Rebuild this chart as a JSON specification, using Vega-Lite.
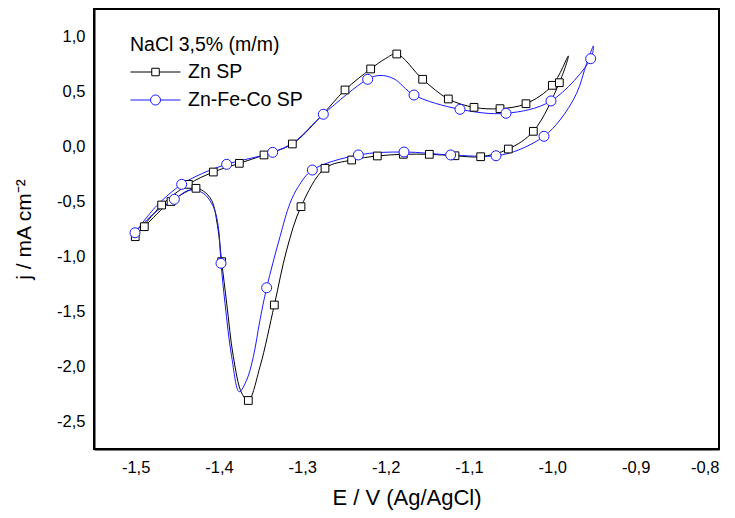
{
  "$schema": "https://vega.github.io/schema/vega-lite/v6.json",
  "width": 625,
  "height": 440,
  "autosize": {"type": "none"},
  "padding": {"left": 94, "top": 9, "right": 16, "bottom": 69},
  "background": "white",
  "config": {
    "view": {"stroke": "black", "strokeWidth": 2},
    "font": "Liberation Sans",
    "axis": {
      "grid": false,
      "domainColor": "black",
      "domainWidth": 2,
      "tickColor": "black",
      "tickWidth": 1.3,
      "tickSize": 0,
      "labelColor": "black",
      "titleColor": "black",
      "labelFont": "Liberation Sans",
      "titleFont": "Liberation Sans",
      "labelFontSize": 16.5,
      "titleFontSize": 21,
      "titleFontWeight": "normal"
    }
  },
  "data": {
    "values": [
      {"s": "Zn SP", "i": 1, "E": -1.5005, "j": -0.82, "m": 1},
      {"s": "Zn SP", "i": 2, "E": -1.4688, "j": -0.532, "m": 1},
      {"s": "Zn SP", "i": 3, "E": -1.4368, "j": -0.344, "m": 1},
      {"s": "Zn SP", "i": 4, "E": -1.4068, "j": -0.232, "m": 1},
      {"s": "Zn SP", "i": 5, "E": -1.3756, "j": -0.153, "m": 1},
      {"s": "Zn SP", "i": 6, "E": -1.346, "j": -0.077, "m": 1},
      {"s": "Zn SP", "i": 7, "E": -1.312, "j": 0.023, "m": 1},
      {"s": "Zn SP", "i": 8, "E": -1.28, "j": 0.255, "m": 0},
      {"s": "Zn SP", "i": 9, "E": -1.2488, "j": 0.514, "m": 1},
      {"s": "Zn SP", "i": 10, "E": -1.218, "j": 0.705, "m": 1},
      {"s": "Zn SP", "i": 11, "E": -1.2, "j": 0.8, "m": 0},
      {"s": "Zn SP", "i": 12, "E": -1.1867, "j": 0.841, "m": 1},
      {"s": "Zn SP", "i": 13, "E": -1.1556, "j": 0.611, "m": 1},
      {"s": "Zn SP", "i": 14, "E": -1.1248, "j": 0.432, "m": 1},
      {"s": "Zn SP", "i": 15, "E": -1.094, "j": 0.356, "m": 1},
      {"s": "Zn SP", "i": 16, "E": -1.0628, "j": 0.344, "m": 1},
      {"s": "Zn SP", "i": 17, "E": -1.0316, "j": 0.389, "m": 1},
      {"s": "Zn SP", "i": 18, "E": -1.0, "j": 0.556, "m": 1},
      {"s": "Zn SP", "i": 19, "E": -0.9808, "j": 0.823, "m": 0},
      {"s": "Zn SP", "i": 20, "E": -0.9916, "j": 0.58, "m": 1},
      {"s": "Zn SP", "i": 21, "E": -1.0228, "j": 0.138, "m": 1},
      {"s": "Zn SP", "i": 22, "E": -1.0528, "j": -0.023, "m": 1},
      {"s": "Zn SP", "i": 23, "E": -1.086, "j": -0.093, "m": 1},
      {"s": "Zn SP", "i": 24, "E": -1.1168, "j": -0.084, "m": 1},
      {"s": "Zn SP", "i": 25, "E": -1.1476, "j": -0.071, "m": 1},
      {"s": "Zn SP", "i": 26, "E": -1.1788, "j": -0.071, "m": 1},
      {"s": "Zn SP", "i": 27, "E": -1.21, "j": -0.086, "m": 1},
      {"s": "Zn SP", "i": 28, "E": -1.2408, "j": -0.123, "m": 1},
      {"s": "Zn SP", "i": 29, "E": -1.2728, "j": -0.198, "m": 1},
      {"s": "Zn SP", "i": 30, "E": -1.3016, "j": -0.547, "m": 1},
      {"s": "Zn SP", "i": 31, "E": -1.3188, "j": -0.941, "m": 0},
      {"s": "Zn SP", "i": 32, "E": -1.3336, "j": -1.441, "m": 1},
      {"s": "Zn SP", "i": 33, "E": -1.3508, "j": -2.002, "m": 0},
      {"s": "Zn SP", "i": 34, "E": -1.3648, "j": -2.309, "m": 1},
      {"s": "Zn SP", "i": 35, "E": -1.3728, "j": -2.241, "m": 0},
      {"s": "Zn SP", "i": 36, "E": -1.3828, "j": -1.911, "m": 0},
      {"s": "Zn SP", "i": 37, "E": -1.3908, "j": -1.423, "m": 0},
      {"s": "Zn SP", "i": 38, "E": -1.3968, "j": -1.047, "m": 1},
      {"s": "Zn SP", "i": 39, "E": -1.4018, "j": -0.72, "m": 0},
      {"s": "Zn SP", "i": 40, "E": -1.4088, "j": -0.49, "m": 0},
      {"s": "Zn SP", "i": 41, "E": -1.4188, "j": -0.405, "m": 0},
      {"s": "Zn SP", "i": 42, "E": -1.4276, "j": -0.38, "m": 1},
      {"s": "Zn SP", "i": 43, "E": -1.4576, "j": -0.5, "m": 1},
      {"s": "Zn SP", "i": 44, "E": -1.4896, "j": -0.729, "m": 1},
      {"s": "Zn SP", "i": 45, "E": -1.5005, "j": -0.81, "m": 0},
      {"s": "Zn-Fe-Co SP", "i": 1, "E": -1.5008, "j": -0.784, "m": 1},
      {"s": "Zn-Fe-Co SP", "i": 2, "E": -1.475, "j": -0.54, "m": 0},
      {"s": "Zn-Fe-Co SP", "i": 3, "E": -1.4448, "j": -0.344, "m": 1},
      {"s": "Zn-Fe-Co SP", "i": 4, "E": -1.42, "j": -0.245, "m": 0},
      {"s": "Zn-Fe-Co SP", "i": 5, "E": -1.3908, "j": -0.162, "m": 1},
      {"s": "Zn-Fe-Co SP", "i": 6, "E": -1.3356, "j": -0.053, "m": 1},
      {"s": "Zn-Fe-Co SP", "i": 7, "E": -1.31, "j": 0.04, "m": 0},
      {"s": "Zn-Fe-Co SP", "i": 8, "E": -1.2748, "j": 0.293, "m": 1},
      {"s": "Zn-Fe-Co SP", "i": 9, "E": -1.2216, "j": 0.611, "m": 1},
      {"s": "Zn-Fe-Co SP", "i": 10, "E": -1.2068, "j": 0.646, "m": 0},
      {"s": "Zn-Fe-Co SP", "i": 11, "E": -1.19, "j": 0.615, "m": 0},
      {"s": "Zn-Fe-Co SP", "i": 12, "E": -1.166, "j": 0.468, "m": 1},
      {"s": "Zn-Fe-Co SP", "i": 13, "E": -1.1108, "j": 0.338, "m": 1},
      {"s": "Zn-Fe-Co SP", "i": 14, "E": -1.0556, "j": 0.302, "m": 1},
      {"s": "Zn-Fe-Co SP", "i": 15, "E": -1.0016, "j": 0.414, "m": 1},
      {"s": "Zn-Fe-Co SP", "i": 16, "E": -0.954, "j": 0.798, "m": 1},
      {"s": "Zn-Fe-Co SP", "i": 17, "E": -0.9508, "j": 0.914, "m": 0},
      {"s": "Zn-Fe-Co SP", "i": 18, "E": -0.9588, "j": 0.756, "m": 0},
      {"s": "Zn-Fe-Co SP", "i": 19, "E": -0.9708, "j": 0.484, "m": 0},
      {"s": "Zn-Fe-Co SP", "i": 20, "E": -0.9908, "j": 0.241, "m": 0},
      {"s": "Zn-Fe-Co SP", "i": 21, "E": -1.01, "j": 0.093, "m": 1},
      {"s": "Zn-Fe-Co SP", "i": 22, "E": -1.04, "j": -0.03, "m": 0},
      {"s": "Zn-Fe-Co SP", "i": 23, "E": -1.0676, "j": -0.084, "m": 1},
      {"s": "Zn-Fe-Co SP", "i": 24, "E": -1.122, "j": -0.077, "m": 1},
      {"s": "Zn-Fe-Co SP", "i": 25, "E": -1.178, "j": -0.05, "m": 1},
      {"s": "Zn-Fe-Co SP", "i": 26, "E": -1.2328, "j": -0.077, "m": 1},
      {"s": "Zn-Fe-Co SP", "i": 27, "E": -1.288, "j": -0.214, "m": 1},
      {"s": "Zn-Fe-Co SP", "i": 28, "E": -1.3048, "j": -0.365, "m": 0},
      {"s": "Zn-Fe-Co SP", "i": 29, "E": -1.3148, "j": -0.516, "m": 0},
      {"s": "Zn-Fe-Co SP", "i": 30, "E": -1.3268, "j": -0.82, "m": 0},
      {"s": "Zn-Fe-Co SP", "i": 31, "E": -1.3428, "j": -1.284, "m": 1},
      {"s": "Zn-Fe-Co SP", "i": 32, "E": -1.3508, "j": -1.577, "m": 0},
      {"s": "Zn-Fe-Co SP", "i": 33, "E": -1.3588, "j": -1.911, "m": 0},
      {"s": "Zn-Fe-Co SP", "i": 34, "E": -1.3668, "j": -2.123, "m": 0},
      {"s": "Zn-Fe-Co SP", "i": 35, "E": -1.3757, "j": -2.229, "m": 0},
      {"s": "Zn-Fe-Co SP", "i": 36, "E": -1.3848, "j": -1.911, "m": 0},
      {"s": "Zn-Fe-Co SP", "i": 37, "E": -1.3928, "j": -1.425, "m": 0},
      {"s": "Zn-Fe-Co SP", "i": 38, "E": -1.3976, "j": -1.062, "m": 1},
      {"s": "Zn-Fe-Co SP", "i": 39, "E": -1.4008, "j": -0.729, "m": 0},
      {"s": "Zn-Fe-Co SP", "i": 40, "E": -1.4068, "j": -0.547, "m": 0},
      {"s": "Zn-Fe-Co SP", "i": 41, "E": -1.4188, "j": -0.425, "m": 0},
      {"s": "Zn-Fe-Co SP", "i": 42, "E": -1.4348, "j": -0.395, "m": 0},
      {"s": "Zn-Fe-Co SP", "i": 43, "E": -1.4536, "j": -0.48, "m": 1},
      {"s": "Zn-Fe-Co SP", "i": 44, "E": -1.48, "j": -0.62, "m": 0},
      {"s": "Zn-Fe-Co SP", "i": 45, "E": -1.5008, "j": -0.784, "m": 0}
    ]
  },
  "encoding": {
    "x": {
      "field": "E",
      "type": "quantitative",
      "scale": {"domain": [-1.55, -0.8], "nice": false, "zero": false},
      "axis": {
        "title": "E / V (Ag/AgCl)",
        "titleFontSize": 22,
        "values": [-1.5, -1.45, -1.4, -1.35, -1.3, -1.25, -1.2, -1.15, -1.1, -1.05, -1.0, -0.95, -0.9, -0.85, -0.8],
        "labelExpr": "abs(datum.value*10 - round(datum.value*10)) < 0.001 ? replace(replace(format(datum.value, '.1f'), '.', ','), '−', '-') : ''",
        "encode": {
          "ticks": {
            "update": {
              "y2": {"signal": "abs(datum.value*10 - round(datum.value*10)) < 0.001 ? -7 : -4"}
            }
          }
        },
        "labelPadding": 10,
        "titlePadding": 12
      }
    },
    "y": {
      "field": "j",
      "type": "quantitative",
      "scale": {"domain": [-2.75, 1.25], "nice": false, "zero": false},
      "axis": {
        "title": "j / mA cm⁻²",
        "values": [-2.5, -2.25, -2.0, -1.75, -1.5, -1.25, -1.0, -0.75, -0.5, -0.25, 0.0, 0.25, 0.5, 0.75, 1.0],
        "labelExpr": "abs(datum.value*2 - round(datum.value*2)) < 0.001 ? replace(replace(format(datum.value, '.1f'), '.', ','), '−', '-') : ''",
        "encode": {
          "ticks": {
            "update": {
              "x2": {"signal": "abs(datum.value*2 - round(datum.value*2)) < 0.001 ? 7 : 4"}
            }
          }
        },
        "labelPadding": 9,
        "titlePadding": 22
      }
    },
    "color": {
      "field": "s",
      "type": "nominal",
      "scale": {"domain": ["Zn SP", "Zn-Fe-Co SP"], "range": ["#000000", "#1a1aff"]},
      "legend": {
        "title": "NaCl 3,5% (m/m)",
        "orient": "none",
        "legendX": 36,
        "legendY": 27,
        "titleFont": "Liberation Sans",
        "labelFont": "Liberation Sans",
        "titleFontSize": 19.5,
        "labelFontSize": 19.5,
        "titleFontWeight": "normal",
        "titleColor": "black",
        "labelColor": "black",
        "titlePadding": 6,
        "rowPadding": 8,
        "symbolSize": 400,
        "symbolStrokeWidth": 1,
        "labelOffset": 37,
        "encode": {
          "symbols": {
            "update": {
              "shape": {"signal": "datum.value === 'Zn SP' ? 'M-1,0L1.125,0M1.875,0L4,0M1.125,-0.375L1.875,-0.375L1.875,0.375L1.125,0.375Z' : 'M-1,0L1,0M2,0L4,0M2,0A0.5,0.5,0,1,1,1,0A0.5,0.5,0,1,1,2,0Z'"},
              "fill": {"value": "white"},
              "fillOpacity": {"value": 1},
              "strokeWidth": {"value": 1}
            }
          }
        }
      }
    }
  },
  "layer": [
    {
      "mark": {"type": "line", "interpolate": "catmull-rom", "strokeWidth": 1},
      "encoding": {"order": {"field": "i", "type": "quantitative"}}
    },
    {
      "transform": [{"filter": "datum.m == 1 && datum.s == 'Zn SP'"}],
      "mark": {"type": "point", "shape": "square", "size": 60, "filled": false, "fill": "white", "fillOpacity": 1, "strokeWidth": 1, "opacity": 1}
    },
    {
      "transform": [{"filter": "datum.m == 1 && datum.s == 'Zn-Fe-Co SP'"}],
      "mark": {"type": "point", "shape": "circle", "size": 100, "filled": false, "fill": "white", "fillOpacity": 1, "strokeWidth": 1, "opacity": 1}
    }
  ]
}
